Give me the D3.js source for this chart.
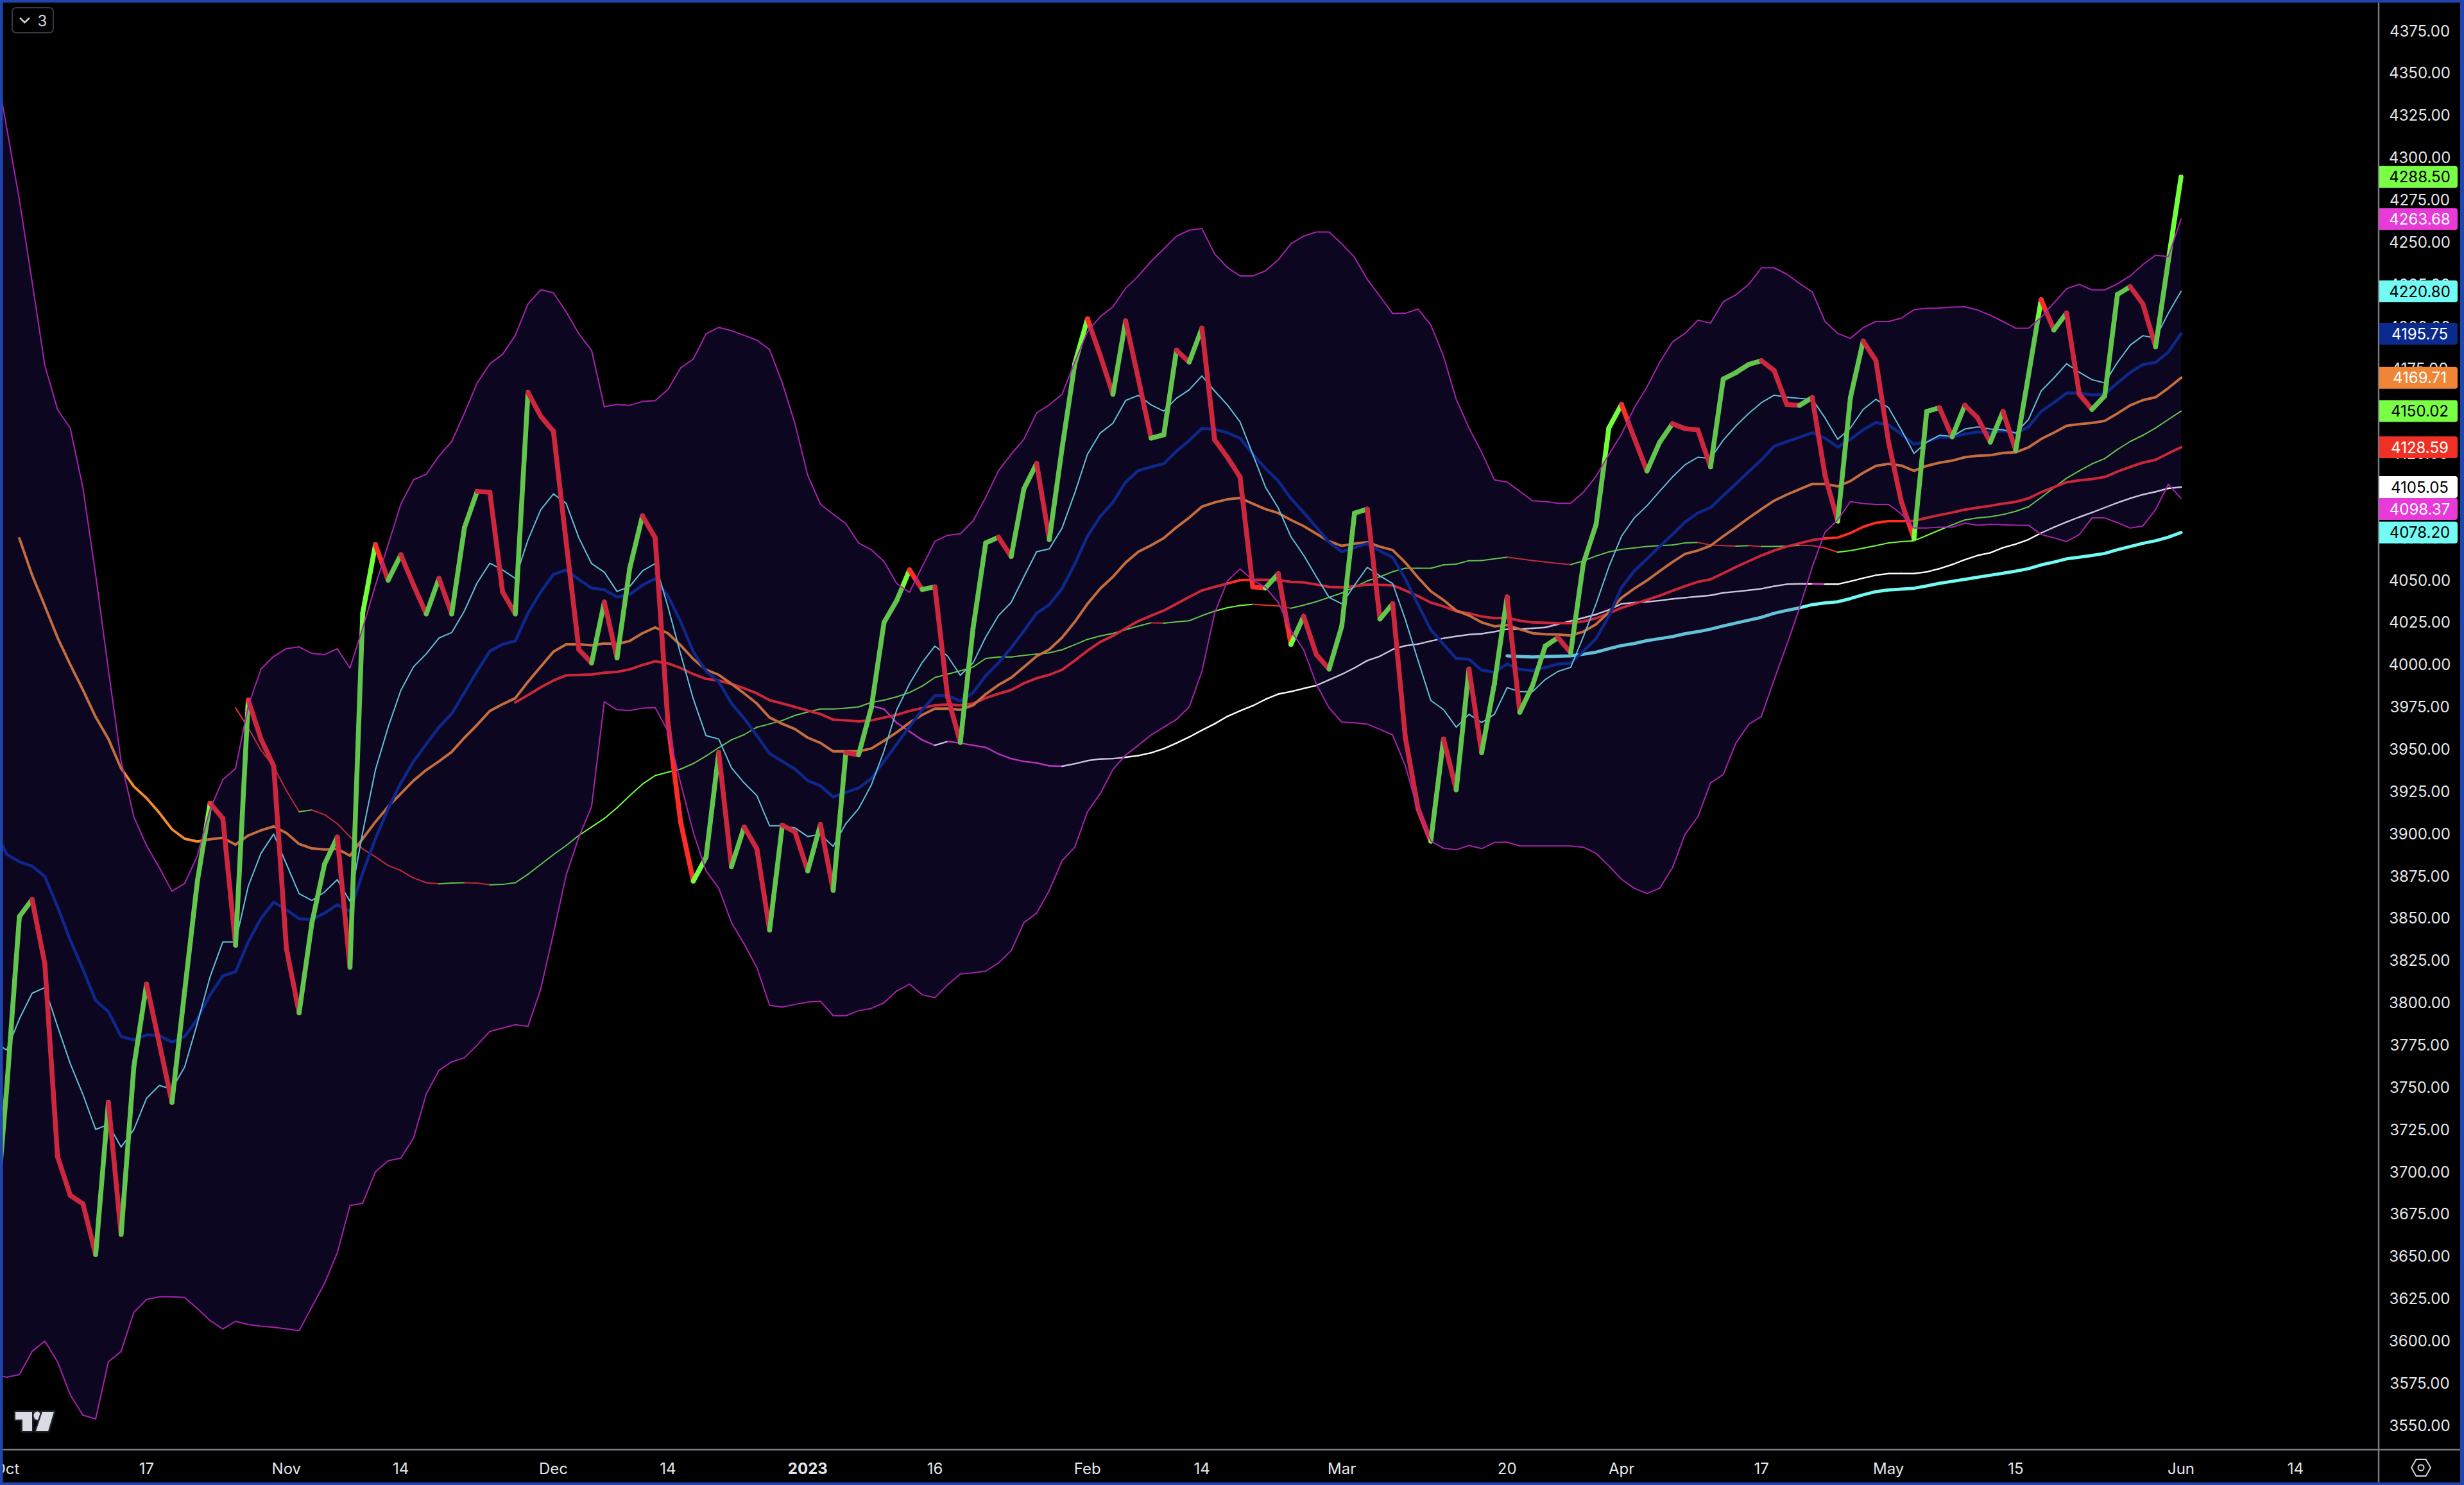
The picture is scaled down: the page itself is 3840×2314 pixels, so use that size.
<!DOCTYPE html>
<html><head><meta charset="utf-8">
<script src="https://cdn.jsdelivr.net/npm/d3@7/dist/d3.min.js"></script>
<style>html,body{margin:0;padding:0;background:#000;overflow:hidden}svg{display:block}text{font-family:Inter,"Liberation Sans",sans-serif}</style>
</head><body><svg id="c" width="3840" height="2314"></svg>
<script>
const price=[3660,3749,3851,3861,3823,3709,3686,3681,3651,3741,
3663,3762,3811,3776,3741,3807,3872,3918,3909,3834,
3979,3956,3940,3832,3794,3847,3882,3898,3821,4030.5,
4071,4050,4065,4047,4030,4051,4030,4081,4102.5,4102,
4043,4030,4161,4147,4138,4072.5,4009,4001,4037,4004,
4057,4088,4075,3966,3907,3872,3886,3948,3880.5,3904,
3891,3843,3905,3901,3878,3905.4,3866.5,3948,3946.6,3974.6,
4025,4038,4056,4044.5,4046,3981,3954,4021.5,4072,4075.4,
4064,4104,4119,4074,4128,4178,4204.6,4183,4160,4203.3,
4169,4134,4136,4186,4179,4199,4133,4122.7,4111,4046,
4045.4,4053.8,4012,4028.6,4006,3997.4,4022.8,4089.6,4092,4027,
4036,3956.7,3914.7,3895.6,3956,3926,3997.4,3948,3988.8,4040,
3971.8,3987.6,4011,4016,4007,4060,4083,4140,4153.9,4134,
4114.6,4131.6,4142.5,4139.6,4138.9,4117,4169,4172.8,4177.6,4179.8,
4174,4153.9,4153.4,4158,4112,4085,4158,4191.4,4180,4131.6,
4096.5,4074.7,4149.8,4152,4134.8,4153.4,4146,4131.6,4149.8,4126.8,
4171,4215.9,4198,4208,4160,4151,4159,4219,4223.6,4213.4,
4188,4239,4288.5];
const bandUpper=[4360,4317.7,4275,4226.5,4177,4151,4140,4104.5,4053,3997,
3943,3910,3893,3880,3866,3870.6,3887,3914.6,3932,3938.6,
3975.6,3997.4,4004.9,4009.5,4010.5,4006.7,4006,4009.4,3998,4021.6,
4047,4071,4095,4109.4,4112.7,4123.4,4132,4148.8,4166.6,4178,
4183.6,4194.8,4213.4,4221.8,4220,4208.8,4195.7,4186,4152.6,4153.9,
4153.4,4155.7,4156.2,4162.8,4175.5,4180.8,4195.7,4199.5,4197.6,4194.8,
4192,4186.4,4166.6,4142.4,4112,4094.9,4089,4083.4,4072,4068,
4061,4048,4042.8,4058,4073,4076.5,4077.4,4085,4099,4114.8,
4124.5,4133.4,4149,4153.7,4160,4179,4197,4205.9,4211.7,4222.7,
4230,4238.6,4246,4253.5,4257,4258,4243,4235,4230,4230,
4233,4239.5,4249,4253.5,4256,4256,4249,4241,4228,4218,
4207.7,4207.9,4210.4,4201,4182.5,4157,4140,4125.6,4109.3,4108,
4102.6,4097,4096.5,4095.5,4095.5,4102,4111.5,4124.3,4136.5,4152,
4164.3,4178.8,4190.9,4196,4203.8,4202,4214.7,4218.8,4225,4234.8,
4234.8,4231,4225.5,4220.5,4203,4196,4193,4199.4,4203,4203,
4205,4210,4210.8,4211,4211.5,4211.7,4209.8,4206.7,4203,4199,
4199,4205.5,4214,4222.4,4225,4221.7,4221.7,4225.3,4230,4236.7,
4242.3,4241.3,4263.68];
const bandLower=[3580,3578.5,3580,3593.7,3599.8,3587.6,3568,3556,3553.8,3587.6,
3593.7,3616.8,3624.4,3626,3626,3625.6,3619,3612,3607,3611.5,
3609.6,3608.7,3608,3607,3606,3620,3634,3652,3680,3681.4,
3700,3706.5,3708,3720,3746,3760,3765,3767.5,3775,3783,
3785,3787,3786,3808,3841,3875.4,3898,3916,3978,3973.3,
3972.8,3974.3,3974.6,3960.6,3930,3900.8,3878,3867.8,3847.4,3834.7,
3820.8,3798.4,3797.4,3799,3800.4,3800.9,3792.3,3792.3,3795.3,3796.6,
3800,3807,3811,3804.7,3803,3810.6,3817,3817.7,3818.7,3823.5,
3830.8,3847.3,3853,3866.4,3884,3892,3913,3923.6,3938,3946.5,
3952.3,3958.4,3963,3967.6,3975,3996,4030.4,4049.5,4056.6,4050,
4045.7,4036.8,4020,4008.8,3988.4,3974.4,3966,3965.6,3964.8,3961.7,
3958.4,3940,3913.4,3895.6,3891.4,3890.5,3893,3891.2,3894.8,3895,
3892.7,3892.7,3892.7,3892.7,3892.7,3892,3888.3,3881,3873,3867.7,
3864.6,3867.7,3879.8,3899.7,3910,3930,3935,3953.7,3964.6,3969.4,
3991,4011.8,4033.6,4057.8,4078.3,4085.6,4096.5,4095.3,4094.8,4094.8,
4089.2,4080.8,4080.8,4081.3,4081.3,4083.7,4082.5,4083,4082.7,4082.5,
4082.5,4077,4075,4072.8,4077,4086.8,4086.8,4084,4080.8,4082,
4091.7,4106.7,4098.37];
const cyanFast=[3777,3772,3790.4,3805.6,3809,3786,3764,3745.7,3725,3728,
3714.6,3725,3743.5,3751,3749,3762,3788,3815.4,3836,3836,
3869,3888.4,3899.8,3882,3864.5,3860.5,3865.5,3872.8,3860,3900.8,
3937.7,3963,3984.8,3998.8,4006.4,4015.8,4019,4031.8,4048.4,4060,
4056,4051,4073.8,4091.6,4101,4095.4,4075,4059.8,4054.7,4043.3,
4046.3,4055.5,4059.8,4034.4,4006.4,3979.7,3958,3956,3939,3930,
3922.5,3904.7,3904.7,3903.4,3898.3,3899.6,3892.5,3906,3914.8,3928.8,
3949,3973.3,3988.6,4001.3,4011,4005,3993.7,4001,4016.4,4029,
4036.8,4052,4066.8,4068.5,4080.8,4101.6,4124.5,4137,4142.8,4156.3,
4159.3,4153.7,4150,4157.6,4162.6,4170.8,4161.9,4153.7,4143.6,4124.5,
4105,4092.7,4075.7,4064.7,4052,4039.8,4036,4047,4057.6,4052.5,
4048,4026.6,4002.4,3978.8,3973.4,3963,3970.6,3965.8,3970.6,3986.4,
3984,3984,3991.2,3996,3998.4,4016.6,4036,4057.8,4076,4086.8,
4094,4102.6,4111,4118.3,4122.7,4122,4132.8,4141.3,4148.6,4155,
4159.4,4158.2,4157.5,4157,4146,4133.3,4140,4151,4157,4152,
4138.9,4125,4131.6,4135.7,4135,4139.4,4140.6,4139.4,4138.9,4137,
4145,4161.9,4169.6,4178,4173,4168.6,4166.7,4178.8,4189,4194.6,
4193.3,4207.9,4220.8];
const blueMid=[3903.7,3887.8,3883.4,3880.8,3874.7,3856.8,3837,3819.8,3801.3,3794.7,
3780,3778,3781,3780.6,3776.7,3780,3790.4,3804.6,3815.9,3818.3,
3836,3849.9,3859.5,3855,3849.7,3849.2,3853,3858,3854,3876.7,
3897,3914.8,3930,3942.8,3953,3963,3971,3983.5,3996.2,4008,
4012,4014,4030.5,4043,4053.4,4056,4050.4,4045.3,4044.3,4040,
4041.5,4047,4050.9,4040.7,4025.5,4007.6,3996.2,3989.9,3977.1,3968.2,
3958,3947.4,3942.8,3938.2,3931.4,3928.3,3921.7,3924.5,3927,3932.6,
3942.8,3953,3963.2,3973.3,3981.7,3981.7,3978.4,3983.4,3993.5,4001,
4010,4020,4030.4,4035.5,4045,4059.6,4076,4087.6,4096,4108,
4114.8,4116.9,4118.9,4126.3,4132.6,4139.8,4139.2,4137.2,4134,4124.5,
4116,4108.7,4098.3,4090,4081.3,4072.4,4066.8,4069.3,4071.6,4067.3,
4063.5,4050.7,4035.5,4020.7,4012,4003.7,4003.2,3996.8,3995.5,4000.4,
3997.2,3996.5,3998.4,4000.4,4000.9,4008,4015.4,4028.7,4045.7,4055.4,
4062.6,4069.9,4077,4084.4,4089.7,4092.9,4100,4107,4114.2,4121.2,
4129.2,4132,4134.5,4137.2,4134,4128.7,4133.3,4138.9,4143.2,4141.8,
4136.5,4130.4,4132,4134.5,4134.5,4136.4,4137.7,4137.2,4138.4,4137,
4140.6,4149.8,4155,4160.7,4160.7,4159.5,4160,4166.7,4172.8,4177.6,
4178.8,4184.9,4195.75];
const orangeStart=2;
const orangeLine=[4074.7,4053,4034.7,4016,4000,3985,3969,3956,
3938.6,3928,3921,3912.4,3902.6,3897,3895.4,3896.7,3897.6,3893.5,
3898.9,3902,3904.3,3900.4,3893.9,3891.3,3890.6,3891,3887,3897,
3907,3916,3923.7,3931.4,3937.7,3942.8,3948.4,3956.8,3964.4,3972.6,
3976.6,3980.2,3989.9,3998.8,4007.7,4012,4012,4011.5,4012.5,4012.2,
4014,4018.6,4022,4018.6,4011.5,4003.3,3997,3994,3988.6,3983,
3977,3968.7,3965,3961.9,3956.8,3953.7,3948.7,3948.7,3948.7,3950.4,
3955,3960,3965.7,3970.3,3974,3974,3973.3,3976,3982.6,3988,
3992.3,3998.6,4005,4009,4016,4025.3,4036,4045,4052,4060.4,
4066.8,4070.6,4074.9,4081.3,4087,4093.5,4096,4097.8,4098.6,4095.2,
4092,4089.7,4085.6,4082,4077.4,4073,4070.3,4071.6,4072.4,4069.8,
4067.8,4060.4,4051.5,4043.4,4038.2,4032,4029.1,4025,4022.7,4023.4,
4021,4018.6,4018,4017.8,4017.3,4019.5,4023.9,4031,4039.6,4045,
4049.8,4055.4,4060.7,4065.5,4067.5,4070.4,4076,4081.3,4086.8,4092,
4097,4100.6,4103.8,4106.9,4106.9,4105.5,4108.6,4113.5,4117.6,4118.8,
4117.8,4114.7,4117.6,4119.5,4120.7,4122.7,4123.6,4123.9,4125.3,4125.6,
4128.5,4133.5,4137.2,4141.3,4142.3,4143,4144.2,4148.6,4153.4,4156.5,
4158.2,4163.6,4169.71];
const trendStart=19;
const trendThin=[3974.5,3962.5,3949.4,3939.6,3925.5,3913,3914,3911.3,3905.9,3898.2,3891,
3886.3,3881.2,3878.2,3873.8,3871,3870.3,3870.8,3871,3870.8,3869.8,
3870,3871,3876,3881.8,3887.6,3893,3899,3904,3909,3915.3,
3922.5,3929.3,3934.4,3936.4,3938.2,3941.5,3945.9,3950.9,3955.5,3958.6,
3963,3964.9,3967,3970,3972,3973.8,3973.8,3974.3,3975,3977.7,
3979,3981,3983.5,3987.3,3992.4,3994.4,3996.4,3998.6,4003.7,4004.5,
4004.5,4005.5,4006.2,4007,4008.8,4011.8,4015,4017,4018.5,4020.7,
4022.8,4024.8,4024.6,4025.3,4026,4029,4031.7,4033.7,4035,4035.7,
4035.2,4034.7,4033.4,4035.2,4037.3,4039.8,4042.4,4046,4049.5,4052,
4055,4057,4057,4057,4059,4059.5,4061.5,4061.6,4062.6,4063.6,
4062.6,4061.6,4060.7,4059.9,4059.2,4061.4,4064.3,4066.7,4068.2,4069.1,
4069.9,4070.4,4070.8,4072,4072.3,4070.8,4070.4,4070.1,4070.4,4069.9,
4069.9,4070.1,4070.6,4070.4,4069.1,4066.5,4067.5,4068.9,4070.4,4072,
4072.8,4073.3,4076.4,4079.6,4082.7,4085.6,4086.8,4087.5,4088.8,4090.7,
4093.4,4098.9,4104.7,4110.3,4114.7,4118.8,4121.9,4127.3,4132,4135.7,
4140,4145,4150.02];
const redStart=41;
const redLine=[3977.7,3982,3986.6,3990.6,3993.7,3993.9,3994.2,3995.2,3995.7,
3997.2,3999.8,4002,4000.8,3998,3994.4,3991.6,3990.6,3988.6,3986,
3983,3979,3977,3975,3972.8,3970.8,3967.5,3967,3966.5,3967,
3968.7,3970.3,3972.6,3974.3,3976,3976.4,3976,3977,3980.3,3982.8,
3985,3989,3992,3994,3997,4002.4,4008.3,4013.4,4017,4021.5,
4025.8,4029,4032,4036,4040,4043.9,4046,4048,4050,4050.2,
4050.2,4050,4049,4048.7,4047.4,4046,4045.7,4046.4,4047.4,4047.2,
4047,4043.9,4040.5,4036.7,4034.5,4031.6,4030.4,4028.5,4027.5,4027.7,
4026,4025,4024.8,4024.6,4024.6,4025.6,4027.5,4030.4,4033.6,4036,
4038.4,4040.8,4043.7,4046.4,4049,4050.5,4054.1,4057.8,4061.2,4064.6,
4067.5,4069.9,4071.8,4073.7,4074.7,4075.2,4077.9,4081.5,4083.9,4084.9,
4084.9,4085.1,4086.8,4088.5,4090,4091.7,4092.9,4094,4095.3,4096.3,
4098.4,4102,4105,4107.9,4109,4109.8,4111,4114.2,4117,4119.5,
4121.2,4125,4128.59];
const slowStart=69;
const slowLine=[3975.7,3973.7,3965.6,3960.5,3955.4,3952.3,3954.6,3953.6,3952.3,3951,3947.2,
3944.4,3942.7,3941.9,3940.1,3939.9,3941.4,3943.2,3944.2,3944.4,3945.2,
3946.2,3947.8,3950.3,3953.6,3957.2,3961.2,3965,3969.4,3972.7,3975.7,
3979.5,3982.6,3984.1,3985.9,3987.7,3991,3994.3,3998.1,4002.4,4005,
4009,4011.2,4012.2,4014,4015.6,4016.8,4017.8,4018.3,4019.5,4021,
4021,4021.5,4022,4023.9,4025.8,4027.7,4029.7,4032.4,4036,4036.7,
4037.2,4037.9,4038.9,4039.6,4040.3,4041,4042.5,4043.2,4044,4044.9,
4046.4,4047.6,4047.8,4047.8,4047.6,4047.6,4049.3,4051.2,4052.9,4053.9,
4053.9,4053.9,4054.9,4056.8,4059.2,4062.1,4064.6,4066.2,4069.2,4071.3,
4074,4077.9,4081.3,4084.4,4087.3,4090,4092.9,4095.8,4098.4,4100.6,
4102.3,4104.3,4105.05];
const baseStart=119;
const baseThick=[4005.2,4004.8,4004.5,4004.8,4005,4005.2,4006.2,4007.4,4009.4,4011.3,4012.5,
4014.2,4015.4,4016.6,4018.3,4019.5,4021,4022.9,4024.6,4026.3,4028,
4030.4,4032.1,4033.6,4035.5,4036.5,4037.2,4039.1,4041.3,4043.2,4044.2,
4044.7,4045.2,4046.6,4048.1,4049.3,4050.5,4051.7,4052.9,4054.1,4055.3,
4056.8,4059,4060.7,4062.6,4063.6,4064.6,4065.8,4068,4069.9,4071.8,
4073.3,4075.4,4078.2];
const priceTicks=d3.range(3550,4376,25);
const timeBars=[1,12,23,32,44,53,64,74,86,95,106,119,128,139,149,159,172,181];
const timeLabels=["Oct","17","Nov","14","Dec","14","2023","16","Feb","14","Mar","20","Apr","17","May","15","Jun","14"];
const lastLabels=[[4288.5,"#78ff46","#000"],[4263.68,"#e83ad8","#fff"],[4220.8,"#72fbf3","#000"],
[4195.75,"#0a2a8e","#fff"],[4169.71,"#f08536","#fff"],[4150.02,"#78ff46","#000"],
[4128.59,"#ee3124","#fff"],[4105.05,"#ffffff","#000"],[4098.37,"#e83ad8","#fff"],[4078.2,"#72fbf3","#000"]];

const svg=d3.select("#c");
const x=d3.scaleLinear().domain([1,172]).range([10.4,3399]);
const y=d3.scaleLinear().domain([3550,4300]).range([2221,245.5]);
svg.append("defs").append("clipPath").attr("id","plot").append("rect")
  .attr("x",4).attr("y",4).attr("width",3702).attr("height",2255);
svg.append("rect").attr("width",3840).attr("height",2314).attr("fill","#000");
const plot=svg.append("g").attr("clip-path","url(#plot)");
const lineGen=d3.line().x(d=>x(d[0])).y(d=>y(d[1]));
const pts=(arr,start=0)=>arr.map((v,k)=>[start+k,v]);
function solid(arr,start,color,width){
  plot.append("path").attr("d",lineGen(pts(arr,start))).attr("fill","none")
    .attr("stroke",color).attr("stroke-width",width).attr("stroke-linejoin","round").attr("stroke-linecap","round");
}
function twoTone(arr,start,up,down,width){
  const p=pts(arr,start);
  plot.append("g").selectAll("path").data(d3.pairs(p)).join("path")
    .attr("d",d=>lineGen(d)).attr("fill","none")
    .attr("stroke",d=>d[1][1]>=d[0][1]?up:down)
    .attr("stroke-width",width).attr("stroke-linecap","round");
}
solid(baseThick,baseStart,"#72fbf3",5);
twoTone(slowLine,slowStart,"#ffffff","#e83ad8",2.4);
twoTone(trendThin,trendStart,"#72ff3c","#ee3124",2);
solid(redLine,redStart,"#ff2d22",4);
solid(orangeLine,orangeStart,"#f58a2a",4);
solid(blueMid,0,"#002d90",4.6);
solid(cyanFast,0,"#72fbf3",2);
twoTone(price,0,"#72ff3c","#ff2d2a",7.6);

const band=price.map((_,k)=>k);
plot.append("path").attr("d",d3.area().x(k=>x(k)).y0(k=>y(bandLower[k])).y1(k=>y(bandUpper[k]))(band))
  .attr("fill","rgb(52,24,128)").attr("fill-opacity",0.25);
[bandUpper,bandLower].forEach(b=>solid(b,0,"#a823ac",2));

// axes
const axisCol="#787b86";
svg.append("line").attr("x1",4).attr("x2",3834).attr("y1",2259).attr("y2",2259).attr("stroke",axisCol).attr("stroke-width",2.4);
svg.append("line").attr("x1",3707).attr("x2",3707).attr("y1",4).attr("y2",2310).attr("stroke",axisCol).attr("stroke-width",2.4);
const right=svg.append("g").attr("font-size",24).attr("text-anchor","middle").attr("fill","#e4e6ec");
right.selectAll("text").data(priceTicks).join("text").attr("x",3771).attr("y",d=>y(d)).attr("dy","0.36em").text(d=>d.toFixed(2));
// last-value tags push down when they would collide, as the reference does
const tagH=34;
let prevBottom=-Infinity;
const tags=lastLabels.map(d=>{const c=Math.max(y(d[0]),prevBottom+tagH/2);prevBottom=c+tagH/2;return {v:d[0],bg:d[1],fg:d[2],c};});
const lab=svg.append("g").attr("font-size",24).attr("text-anchor","middle");
const lg=lab.selectAll("g").data(tags).join("g");
lg.append("path").attr("d",d=>{const t=d.c-tagH/2,b=d.c+tagH/2;return `M3708 ${t}H3826a4 4 0 0 1 4 4V${b-4}a4 4 0 0 1 -4 4H3708Z`;}).attr("fill",d=>d.bg);
lg.append("text").attr("x",3771).attr("y",d=>d.c).attr("dy","0.36em").attr("fill",d=>d.fg).text(d=>d.v.toFixed(2));
const bottomG=svg.append("g").attr("font-size",24).attr("text-anchor","middle").attr("fill","#e4e6ec");
bottomG.selectAll("text").data(timeBars).join("text").attr("x",d=>x(d)).attr("y",2288).attr("dy","0.36em")
  .attr("font-weight",(d,i)=>timeLabels[i]==="2023"?700:400).text((d,i)=>timeLabels[i]);

// tradingview mark
const logo=svg.append("g").attr("fill","#d9dce3").attr("stroke","#1e222d").attr("stroke-width",5).attr("paint-order","stroke").attr("stroke-linejoin","round");
logo.append("path").attr("d","M24 2200H50V2230H35V2212H24Z");
logo.append("ellipse").attr("cx",58).attr("cy",2206).attr("rx",5.5).attr("ry",6.5);
logo.append("path").attr("d","M66 2200H84L75 2230H56Z");

// collapse control
svg.append("rect").attr("x",19).attr("y",12).attr("width",64).attr("height",39).attr("rx",6).attr("fill","#000").attr("stroke","#363a45").attr("stroke-width",2);
svg.append("path").attr("d","M31 28L38.5 35L46 28").attr("fill","none").attr("stroke","#d1d4dc").attr("stroke-width",2.4);
svg.append("text").attr("x",66).attr("y",32).attr("dy","0.36em").attr("font-size",24).attr("text-anchor","middle").attr("fill","#d1d4dc").text("3");

// settings icon
const cx=3773,cy=2287;
svg.append("path").attr("d",d3.line()([[cx-15,cy],[cx-7.5,cy-13],[cx+7.5,cy-13],[cx+15,cy],[cx+7.5,cy+13],[cx-7.5,cy+13]])+"Z").attr("fill","none").attr("stroke","#d1d4dc").attr("stroke-width",2);
svg.append("circle").attr("cx",cx).attr("cy",cy).attr("r",4.5).attr("fill","none").attr("stroke","#d1d4dc").attr("stroke-width",2);

// window frame
const blue="#1f45ae";
[[0,0,3840,4],[0,0,4.5,2314],[3834,0,6,2314],[0,2310,3840,4]].forEach(r=>
  svg.append("rect").attr("x",r[0]).attr("y",r[1]).attr("width",r[2]).attr("height",r[3]).attr("fill",blue));
</script></body></html>
